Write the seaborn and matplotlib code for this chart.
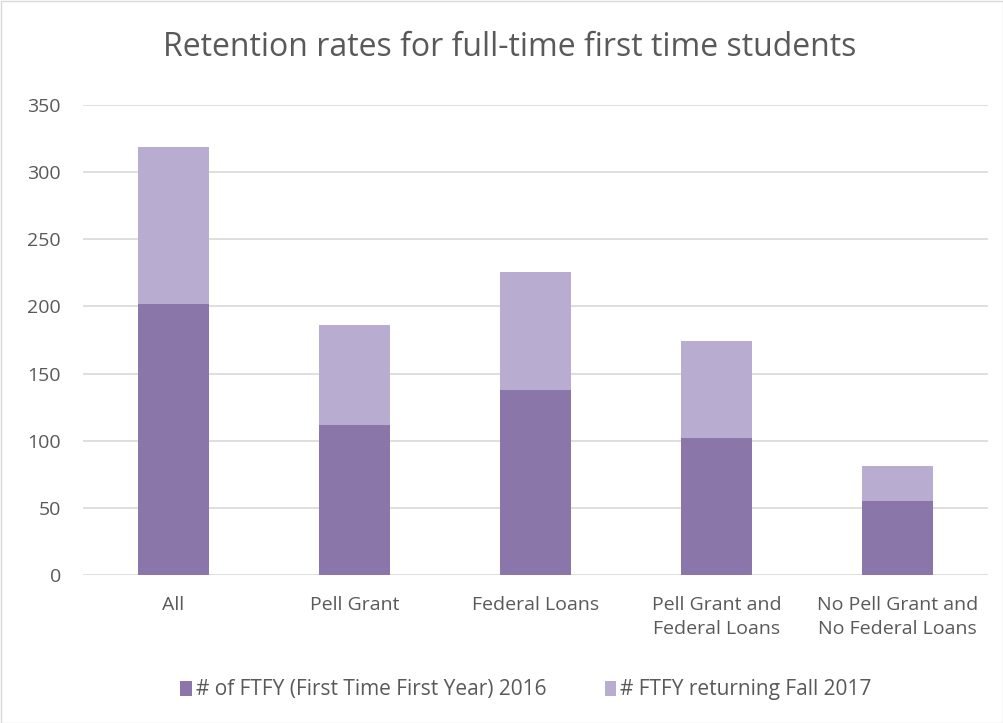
import matplotlib
matplotlib.use("Agg")
import matplotlib.pyplot as plt
import seaborn as sns
import pandas as pd
from matplotlib.patches import Patch, Rectangle

categories = ["All", "Pell Grant", "Federal Loans", "Pell Grant and\nFederal Loans",
              "No Pell Grant and\nNo Federal Loans"]
first_year_2016 = [202, 112, 138, 102, 55]
returning_2017 = [117, 74, 88, 72, 26]
series_names = ["# of FTFY (First Time First Year) 2016", "# FTFY returning Fall 2017"]
yticks = [0, 50, 100, 150, 200, 250, 300, 350]

dark = "#8A76A9"
light = "#B8ACD0"
text_col = "#595959"

sns.set_theme(style="white")
plt.rcParams['font.family'] = ['Open Sans', 'DejaVu Sans']

df = pd.DataFrame({"cat": categories,
                   "bottom": first_year_2016,
                   "total": [a + b for a, b in zip(first_year_2016, returning_2017)]})

fig = plt.figure(figsize=(10.04, 7.23), dpi=100)
ax = fig.add_axes([0.0827, 0.2047, 0.9013, 0.6501])

sns.barplot(data=df, x="cat", y="total", color=light, width=0.39, ax=ax,
            saturation=1, edgecolor="none", order=categories)
sns.barplot(data=df, x="cat", y="bottom", color=dark, width=0.39, ax=ax,
            saturation=1, edgecolor="none", order=categories)

ax.set_ylim(0, 350)
ax.set_xlim(-0.5, len(categories) - 0.5)
ax.set_yticks(yticks)
ax.set_yticklabels([str(t) for t in yticks], color=text_col, fontsize=14)
ax.tick_params(axis="y", length=0, pad=16)
ax.tick_params(axis="x", length=0, pad=15, labelsize=14, labelcolor=text_col)
for lbl in ax.get_xticklabels():
    lbl.set_linespacing(1.45)
ax.set_xlabel("")
ax.set_ylabel("")
for t in yticks:
    ax.axhline(t, color="#D9D9D9", lw=1.2, zorder=0)
ax.set_axisbelow(True)
for s in ax.spines.values():
    s.set_visible(False)

fig.text(0.508, 1 - 48 / 723, "Retention rates for full-time first time students",
         ha="center", va="center", fontsize=23, color=text_col)

handles = [Patch(facecolor=dark, edgecolor="none"), Patch(facecolor=light, edgecolor="none")]
fig.legend(handles, series_names, loc="center", bbox_to_anchor=(0.524, 1 - 690 / 723),
           ncol=2, frameon=False, fontsize=15, labelcolor=text_col,
           handlelength=0.55, handleheight=0.7, handletextpad=0.2, columnspacing=2.8)

fig.patches.append(Rectangle((0.5 / 1004, 0.5 / 723), 1 - 1.5 / 1004, 1 - 1.5 / 723,
                             transform=fig.transFigure, fill=False,
                             edgecolor="#D9D9D9", lw=1))

fig.savefig("out.png", dpi=100, facecolor="white")
